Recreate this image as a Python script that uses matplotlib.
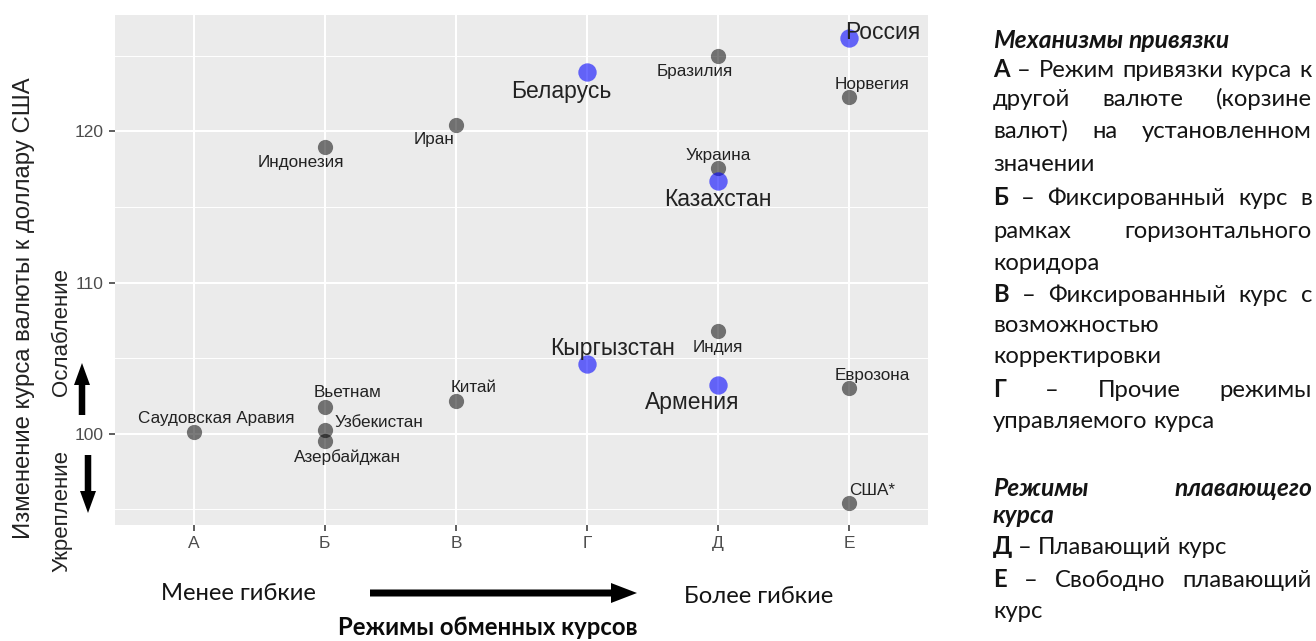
import matplotlib
matplotlib.use('Agg')
import matplotlib.pyplot as plt
from matplotlib.patches import FancyArrow

# ---------------- data ----------------
regime_labels = ['А', 'Б', 'В', 'Г', 'Д', 'Е']
countries = ['Саудовская Аравия', 'Вьетнам', 'Узбекистан', 'Азербайджан', 'Индонезия',
             'Китай', 'Иран', 'Кыргызстан', 'Беларусь', 'Индия', 'Армения', 'Украина',
             'Казахстан', 'Бразилия', 'Еврозона', 'США*', 'Норвегия', 'Россия']
regime = ['А', 'Б', 'Б', 'Б', 'Б', 'В', 'В', 'Г', 'Г', 'Д', 'Д', 'Д', 'Д', 'Д',
          'Е', 'Е', 'Е', 'Е']
values = [100.1, 101.8, 100.25, 99.55, 119.0, 102.2, 120.45, 104.6, 123.9, 106.8,
          103.2, 117.6, 116.7, 125.0, 103.0, 95.4, 122.25, 126.2]
highlight = [False, False, False, False, False, False, False, True, True, False,
             True, False, True, False, False, False, False, True]
y_ticks = [100, 110, 120]
y_minor = [95, 105, 115, 125]

y_title = 'Изменение курса валюты к доллару США'
weak_txt = 'Ослабление'
strong_txt = 'Укрепление'
less_txt = 'Менее гибкие'
more_txt = 'Более гибкие'
x_title = 'Режимы обменных курсов'

# label offsets (pixels, up positive) - styling only
label_offsets = [(23, 14), (23, 14), (54, 8), (23, -16), (-24, -16),
                 (18, 13), (-22, -15), (25, 16), (-26, -19), (0, -16),
                 (-26, -17), (0, 12), (0, -18), (-23, -16), (23, 13),
                 (23, 13), (23, 13), (33, 5)]

legend_lines = [
    ([('Механизмы', 'bi'), ('привязки', 'bi')], 42, False),
    ([('А', 'b'), ('–', 'r'), ('Режим', 'r'), ('привязки', 'r'), ('курса', 'r'), ('к', 'r')], 71, True),
    ([('другой', 'r'), ('валюте', 'r'), ('(корзине', 'r')], 100, True),
    ([('валют)', 'r'), ('на', 'r'), ('установленном', 'r')], 132, True),
    ([('значении', 'r')], 165, False),
    ([('Б', 'b'), ('–', 'r'), ('Фиксированный', 'r'), ('курс', 'r'), ('в', 'r')], 199, True),
    ([('рамках', 'r'), ('горизонтального', 'r')], 232, True),
    ([('коридора', 'r')], 264, False),
    ([('В', 'b'), ('–', 'r'), ('Фиксированный', 'r'), ('курс', 'r'), ('с', 'r')], 296, True),
    ([('возможностью', 'r')], 326, False),
    ([('корректировки', 'r')], 357, False),
    ([('Г', 'b'), ('–', 'r'), ('Прочие', 'r'), ('режимы', 'r')], 391, True),
    ([('управляемого', 'r'), ('курса', 'r')], 422, False),
    ([('Режимы', 'bi'), ('плавающего', 'bi')], 490, True),
    ([('курса', 'bi')], 517, False),
    ([('Д', 'b'), ('–', 'r'), ('Плавающий', 'r'), ('курс', 'r')], 548, False),
    ([('Е', 'b'), ('–', 'r'), ('Свободно', 'r'), ('плавающий', 'r')], 581, True),
    ([('курс', 'r')], 612, False),
]

# ---------------- figure ----------------
W, H, DPI = 1316, 641, 100
fig = plt.figure(figsize=(W / DPI, H / DPI), dpi=DPI)
fig.patch.set_facecolor('white')

SANS = ['Liberation Sans', 'DejaVu Sans']
CAL = ['Lato', 'Open Sans', 'DejaVu Sans']

px0, px1, py0, py1 = 115, 928, 15, 525
ax = fig.add_axes([px0 / W, 1 - py1 / H, (px1 - px0) / W, (py1 - py0) / H])
ax.set_facecolor('#EBEBEB')
for s in ax.spines.values():
    s.set_visible(False)

xpos = [regime_labels.index(r) + 1 for r in regime]
ax.set_xlim(0.4, 6.6)
ax.set_ylim(93.97, 127.7)
ax.set_xticks(range(1, len(regime_labels) + 1))
ax.set_xticklabels(regime_labels)
ax.set_yticks(y_ticks)
ax.set_yticks(y_minor, minor=True)
ax.grid(True, which='major', color='white', lw=1.5)
ax.grid(True, which='minor', axis='y', color='white', lw=0.7)
ax.set_axisbelow(True)
ax.tick_params(axis='both', which='major', length=4, width=1.1, color='#333333',
               labelcolor='#4D4D4D', labelsize=12.5, pad=4)
ax.tick_params(axis='y', which='minor', length=0)
for lab in ax.get_xticklabels() + ax.get_yticklabels():
    lab.set_family(SANS)

gx = [x for x, h in zip(xpos, highlight) if not h]
gy = [v for v, h in zip(values, highlight) if not h]
bx = [x for x, h in zip(xpos, highlight) if h]
by = [v for v, h in zip(values, highlight) if h]
ax.scatter(gx, gy, s=120, color='black', alpha=0.52, lw=0, zorder=3)
ax.scatter(bx, by, s=175, color='blue', alpha=0.58, lw=0, zorder=3)

for name, x, v, h, (dx, dy) in zip(countries, xpos, values, highlight, label_offsets):
    ax.annotate(name, (x, v), xytext=(dx, dy), textcoords='offset pixels',
                ha='center', va='center', fontsize=16.5 if h else 12.3,
                color='#222222', family=SANS, zorder=4)

# overlay in pixel coordinates
ov = fig.add_axes([0, 0, 1, 1], zorder=5)
ov.set_xlim(0, W)
ov.set_ylim(H, 0)
ov.axis('off')
ov.patch.set_alpha(0)

fig.canvas.draw()
rend = fig.canvas.get_renderer()


def text_w(s, **kw):
    t = ov.text(0, 0, s, **kw)
    w = t.get_window_extent(rend).width
    t.remove()
    return w


# fit Calibri-like size to measured width of one legend line
ref_w = text_w('Д – Плавающий курс', fontsize=10, family=CAL)
FS = 10 * 234.0 / ref_w


def fprops(st):
    d = dict(fontsize=FS, family=CAL, color='#141414')
    if 'b' in st:
        d['fontweight'] = 'bold'
    if 'i' in st:
        d['fontstyle'] = 'italic'
        d['fontsize'] = FS * 1.03
    return d


X0, X1 = 993, 1312
for tokens, yc, just in legend_lines:
    widths = [text_w(t, **fprops(st)) for t, st in tokens]
    if just and len(tokens) > 1:
        gap = (X1 - X0 - sum(widths)) / (len(tokens) - 1)
    else:
        st0 = tokens[-1][1]
        gap = text_w('a a', **fprops(st0)) - text_w('aa', **fprops(st0))
    x = X0
    for (t, st), w in zip(tokens, widths):
        ov.text(x, yc + 6, t, ha='left', va='baseline', **fprops(st))
        x += w + gap

# axis titles and side annotations
ov.text(24, 308, y_title, rotation=90, ha='center', va='center', fontsize=17.2,
        color='#222222', family=SANS)
ov.text(62, 332, weak_txt, rotation=90, ha='center', va='center', fontsize=16,
        color='#222222', family=SANS)
ov.text(62, 511, strong_txt, rotation=90, ha='center', va='center', fontsize=16,
        color='#222222', family=SANS)

ov.text(238, 600, less_txt, ha='center', va='baseline', fontsize=FS, color='#141414', family=CAL)
ov.text(759, 603, more_txt, ha='center', va='baseline', fontsize=FS, color='#141414', family=CAL)
ov.text(488, 635, x_title, ha='center', va='baseline', fontsize=FS, fontweight='bold',
        color='#0A0A0A', family=CAL)

ov.add_patch(FancyArrow(370, 593, 267, 0, width=7, head_width=20, head_length=26,
                        length_includes_head=True, color='black', lw=0))
ov.add_patch(FancyArrow(82, 415, 0, -52, width=6.5, head_width=16, head_length=22,
                        length_includes_head=True, color='black', lw=0))
ov.add_patch(FancyArrow(88, 455, 0, 58, width=6.5, head_width=16, head_length=22,
                        length_includes_head=True, color='black', lw=0))

fig.savefig('out.png', dpi=DPI, facecolor='white')
